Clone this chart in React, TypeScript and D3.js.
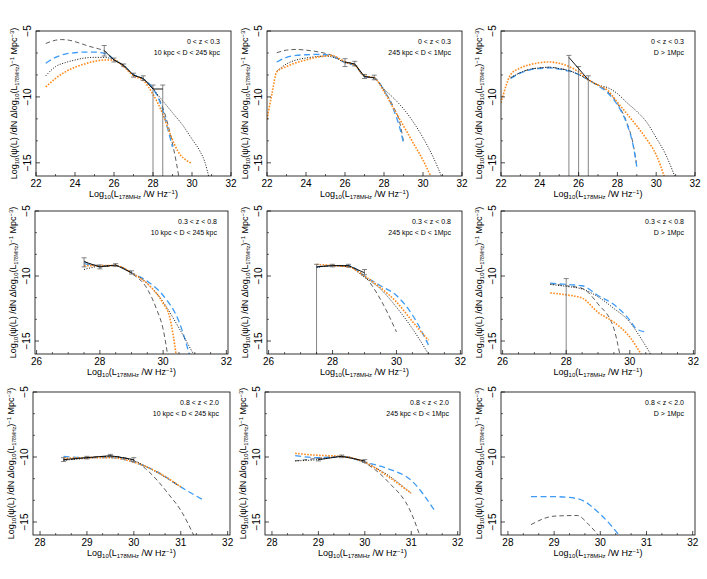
import React from 'react';
import * as d3 from 'd3';

type Pt = [number, number];
type Err = [number, number, number, number]; // x, y, low, high

// ---------- Row 1 : 0 < z < 0.3 ----------
const p11BlackDashed: Pt[] = [[22.5,-5.95],[23,-5.7],[23.3,-5.65],[23.7,-5.7],[24.2,-5.9],[24.7,-6.15],[25.2,-6.35],[25.5,-6.5],[26,-7.15],[26.5,-7.65],[27,-8.3],[27.5,-8.65],[28,-9.35],[28.5,-10.8],[28.8,-12.3],[29.05,-13.9],[29.2,-15],[29.35,-16.3]];
const p11Blue: Pt[] = [[22.5,-7.45],[23,-7.0],[23.5,-6.75],[24,-6.65],[24.5,-6.6],[25,-6.6],[25.5,-6.7],[26,-7.15],[26.5,-7.65],[27,-8.3],[27.5,-8.65],[28,-9.35],[28.5,-11.0],[28.75,-12.4],[29,-13.8]];
const p11Dotted: Pt[] = [[22.5,-8.4],[23,-7.7],[23.5,-7.4],[24,-7.2],[24.5,-7.05],[25,-7.0],[25.5,-7.0],[26,-7.2],[26.5,-7.7],[27,-8.35],[27.5,-8.65],[28,-9.4],[28.5,-10.3],[29,-11.2],[29.5,-12.1],[30,-13.2],[30.4,-14.1],[30.65,-14.9],[30.9,-16.3]];
const p11Orange: Pt[] = [[22.5,-9.25],[23,-8.6],[23.5,-8.1],[24,-7.75],[24.5,-7.5],[25,-7.3],[25.5,-7.2],[26,-7.2],[26.5,-7.7],[27,-8.4],[27.5,-8.75],[28,-9.8],[28.5,-11.3],[28.8,-12.5],[29.1,-13.6],[29.4,-14.4],[29.7,-14.8],[30,-15.05]];
const p11Data: Err[] = [[25.5,-6.5,-6.9,-6.1],[26,-7.2,-7.35,-7.05],[26.5,-7.6,-7.7,-7.5],[27,-8.35,-8.5,-8.2],[27.5,-8.6,-8.75,-8.4],[28,-9.4,-16.5,-9.1],[28.5,-9.4,-16.5,-9.1]];

const p12BlackDashed: Pt[] = [[22.5,-6.65],[23,-6.45],[23.5,-6.4],[24,-6.45],[24.5,-6.55],[25,-6.7],[25.5,-6.95],[26,-7.35],[26.5,-7.55],[27,-8.45],[27.5,-8.55],[28,-9.5],[28.5,-10.8],[28.8,-11.9],[29,-13.4]];
const p12Blue: Pt[] = [[22.5,-7.35],[23,-7.0],[23.5,-6.85],[24,-6.8],[24.5,-6.78],[25,-6.8],[25.5,-7.0],[26,-7.4],[26.5,-7.6],[27,-8.45],[27.5,-8.55],[28,-9.5],[28.5,-11.0],[28.8,-12.3],[29,-13.5]];
const p12Dotted: Pt[] = [[22.5,-8.05],[23,-7.5],[23.5,-7.2],[24,-7.05],[24.5,-6.95],[25,-6.9],[25.5,-7.05],[26,-7.4],[26.5,-7.6],[27,-8.45],[27.5,-8.6],[28,-9.4],[28.5,-10.1],[29,-10.9],[29.5,-11.9],[30,-13.1],[30.5,-14.5],[31,-16.2]];
const p12Orange: Pt[] = [[22,-11.7],[22.25,-9.8],[22.5,-8.1],[23,-7.7],[23.5,-7.4],[24,-7.2],[24.5,-7.0],[25,-6.9],[25.3,-6.85],[25.6,-7.0],[26,-7.35],[26.5,-7.6],[27,-8.4],[27.5,-8.55],[28,-9.6],[28.5,-10.9],[29,-12.2],[29.5,-13.5],[30,-14.8],[30.45,-16.2]];
const p12Data: Err[] = [[26,-7.35,-7.7,-7.1],[26.5,-7.5,-7.65,-7.3],[27,-8.45,-8.6,-8.3],[27.5,-8.55,-8.7,-8.35]];

const p13BlackDashed: Pt[] = [[22.5,-8.55],[23,-8.15],[23.5,-7.9],[24,-7.8],[24.5,-7.75],[25,-7.85],[25.5,-8.0],[26,-8.3],[26.5,-8.7],[27,-9.1],[27.5,-9.6],[28,-10.5],[28.5,-12.0],[28.8,-13.5],[29,-15.2]];
const p13Blue: Pt[] = [[22.5,-8.6],[23,-8.2],[23.5,-7.95],[24,-7.85],[24.5,-7.8],[25,-7.9],[25.5,-8.05],[26,-8.3],[26.5,-8.7],[27,-9.15],[27.5,-9.7],[28,-10.6],[28.5,-12.1],[28.8,-13.6],[29,-15.3]];
const p13Dotted: Pt[] = [[22.5,-8.55],[23,-8.15],[23.5,-7.9],[24,-7.8],[24.5,-7.75],[25,-7.85],[25.5,-8.0],[26,-8.3],[26.5,-8.7],[27,-9.1],[27.5,-9.3],[28,-9.75],[28.5,-10.45],[29,-11.1],[29.5,-11.9],[30,-13.1],[30.5,-14.4],[31,-16.2]];
const p13Orange: Pt[] = [[22,-10.45],[22.25,-9.2],[22.5,-8.3],[23,-7.8],[23.5,-7.55],[24,-7.4],[24.5,-7.35],[25,-7.45],[25.5,-7.7],[26,-8.1],[26.5,-8.7],[27,-9.1],[27.5,-9.5],[28,-10.4],[28.5,-11.3],[29,-12.2],[29.5,-13.2],[30,-14.4],[30.45,-16.2]];
const p13Data: Err[] = [[25.5,-7.0,-16.5,-6.85],[26,-7.85,-16.5,-7.7],[26.5,-8.7,-16.5,-8.4]];

// ---------- Row 2 : 0.3 < z < 0.8 ----------
const p21BlackDashed: Pt[] = [[27.5,-8.85],[28,-9.3],[28.5,-9.2],[29,-9.8],[29.5,-11.0],[29.8,-12.6],[30,-14.1],[30.15,-16.2]];
const p21Blue: Pt[] = [[27.5,-9.05],[28,-9.2],[28.5,-9.2],[29,-9.75],[29.5,-10.4],[30,-11.5],[30.5,-13.5],[30.85,-16.2]];
const p21Dotted: Pt[] = [[27.5,-9.5],[28,-9.25],[28.5,-9.2],[29,-9.75],[29.5,-10.55],[30,-12.0],[30.5,-14.0],[31,-16.2]];
const p21Orange: Pt[] = [[27.5,-9.2],[28,-9.2],[28.5,-9.2],[29,-9.75],[29.5,-10.6],[30,-12.1],[30.2,-13.1],[30.42,-16.2]];
const p21Data: Err[] = [[27.5,-8.9,-9.3,-8.6],[28,-9.3,-9.45,-9.15],[28.5,-9.15,-9.25,-9.05],[29,-9.75,-9.85,-9.6]];

const p22BlackDashed: Pt[] = [[27.5,-9.3],[28,-9.2],[28.5,-9.3],[29,-10.0],[29.5,-11.8],[30,-14.3]];
const p22Blue: Pt[] = [[27.5,-9.3],[28,-9.2],[28.5,-9.2],[29,-10.0],[29.5,-10.75],[30,-11.5],[30.5,-13.0],[31,-15.3]];
const p22Dotted: Pt[] = [[27.5,-9.35],[28,-9.2],[28.5,-9.3],[29,-10.1],[29.5,-11.0],[30,-12.4],[30.5,-14.05],[31,-16.0]];
const p22Orange: Pt[] = [[27.5,-9.1],[28,-9.2],[28.5,-9.3],[29,-10.0],[29.5,-10.9],[30,-12.0],[30.5,-13.5],[31,-14.95]];
const p22Data: Err[] = [[27.5,-9.3,-16.5,-9.1],[28,-9.2,-9.3,-9.1],[28.5,-9.2,-9.3,-9.1],[29,-9.75,-9.9,-9.5]];

const p23BlackDashed: Pt[] = [[27.5,-10.6],[28,-10.75],[28.5,-10.95],[29,-12.15],[29.5,-14.05],[29.7,-16.2]];
const p23Blue: Pt[] = [[27.5,-10.55],[28,-10.65],[28.5,-10.75],[29,-11.5],[29.5,-12.2],[30,-13.4],[30.2,-14.05],[30.5,-14.3]];
const p23Dotted: Pt[] = [[27.5,-10.65],[28,-10.8],[28.5,-11.0],[29,-11.6],[29.5,-12.5],[30,-13.55],[30.3,-14.6],[30.7,-16.2]];
const p23Orange: Pt[] = [[27.5,-11.3],[28,-11.45],[28.5,-11.7],[29,-12.8],[29.5,-13.55],[30,-14.7],[30.4,-16.2]];
const p23Data: Err[] = [[28,-10.3,-16.5,-10.2]];

// ---------- Row 3 : 0.8 < z < 2.0 ----------
const p31BlackDashed: Pt[] = [[28.5,-10.25],[29,-10.05],[29.5,-9.95],[30,-10.25],[30.25,-10.9],[30.5,-11.8],[30.75,-12.9],[31,-14.1],[31.3,-16.2]];
const p31Blue: Pt[] = [[28.5,-9.95],[29,-10.05],[29.5,-10.05],[30,-10.4],[30.5,-11.15],[31,-12.3],[31.5,-13.35]];
const p31Dotted: Pt[] = [[28.5,-10.25],[29,-10.1],[29.5,-9.95],[30,-10.3],[30.5,-11.2],[31,-12.3]];
const p31Orange: Pt[] = [[28.5,-10.1],[29,-10.05],[29.5,-10.05],[30,-10.4],[30.5,-11.15],[31,-12.3]];
const p31Data: Err[] = [[28.5,-10.2,-10.35,-10.05],[29,-10.05,-10.15,-9.95],[29.5,-9.9,-10.0,-9.8],[30,-10.2,-10.35,-10.05]];

const p32BlackDashed: Pt[] = [[28.5,-10.3],[29,-10.1],[29.5,-9.95],[30,-10.45],[30.5,-11.9],[31,-14.3],[31.2,-16.2]];
const p32Blue: Pt[] = [[28.5,-9.9],[29,-10.05],[29.5,-9.95],[30,-10.4],[30.5,-10.9],[31,-11.8],[31.5,-14.1]];
const p32Dotted: Pt[] = [[28.5,-10.3],[29,-10.2],[29.5,-9.95],[30,-10.45],[30.5,-11.4],[31,-12.8]];
const p32Orange: Pt[] = [[28.5,-9.72],[29,-9.87],[29.5,-9.95],[30,-10.4],[30.5,-11.5],[31,-12.8]];
const p32Data: Err[] = [[29,-10.2,-10.3,-10.1],[29.5,-9.95,-10.05,-9.85],[30,-10.3,-10.4,-10.2]];

const p33BlackDashed: Pt[] = [[28.5,-15.2],[29,-14.55],[29.5,-14.5],[29.75,-15.2],[30,-16.2]];
const p33Blue: Pt[] = [[28.5,-13.05],[29,-13.05],[29.5,-13.2],[30,-14.4],[30.45,-16.2]];
const p33Dotted: Pt[] = [];
const p33Orange: Pt[] = [];
const p33Data: Err[] = [];

// ---------- labels / axes ----------
const zLabels = ['0 < z < 0.3', '0.3 < z < 0.8', '0.8 < z < 2.0'];
const dLabels = ['10 kpc < D < 245 kpc', '245 kpc < D < 1Mpc', 'D > 1Mpc'];
const rowXDomains: [number, number][] = [[22, 32], [25.95, 32.05], [27.85, 32.05]];
const rowXTicks: number[][] = [[22, 24, 26, 28, 30, 32], [26, 28, 30, 32], [28, 29, 30, 31, 32]];
const rowXMinorDiv = [2, 4, 3];
const yDomain: [number, number] = [-16, -5];
const yTicks = [-5, -10, -15];
const yMinorDiv = 3;

const panelSeries = [
  [
    { bd: p11BlackDashed, bl: p11Blue, dt: p11Dotted, or: p11Orange, data: p11Data },
    { bd: p12BlackDashed, bl: p12Blue, dt: p12Dotted, or: p12Orange, data: p12Data },
    { bd: p13BlackDashed, bl: p13Blue, dt: p13Dotted, or: p13Orange, data: p13Data },
  ],
  [
    { bd: p21BlackDashed, bl: p21Blue, dt: p21Dotted, or: p21Orange, data: p21Data },
    { bd: p22BlackDashed, bl: p22Blue, dt: p22Dotted, or: p22Orange, data: p22Data },
    { bd: p23BlackDashed, bl: p23Blue, dt: p23Dotted, or: p23Orange, data: p23Data },
  ],
  [
    { bd: p31BlackDashed, bl: p31Blue, dt: p31Dotted, or: p31Orange, data: p31Data },
    { bd: p32BlackDashed, bl: p32Blue, dt: p32Dotted, or: p32Orange, data: p32Data },
    { bd: p33BlackDashed, bl: p33Blue, dt: p33Dotted, or: p33Orange, data: p33Data },
  ],
];

// layout (pixel boxes of each panel)
const rowTop = [31, 211, 392];
const rowBottom = [176, 354, 535];
const colLeft = [[36, 267, 501], [35, 267, 501], [33, 265, 501]];
const colRight = [[231, 462, 695], [228, 462, 695], [230, 460, 695]];

const FONT = "'Liberation Sans', Arial, Helvetica, sans-serif";

function minorTicks(majors: number[], div: number, dom: [number, number]) {
  const period = majors[1] - majors[0];
  const out: number[] = [];
  const start = majors[0] - period;
  const lo = Math.min(dom[0], dom[1]), hi = Math.max(dom[0], dom[1]);
  for (let m = start; m <= majors[majors.length - 1] + 1e-9; m += period) {
    for (let k = 1; k < div; k++) {
      const v = m + (period * k) / div;
      if (v > lo + 1e-6 && v < hi - 1e-6) out.push(v);
    }
  }
  return out;
}

function Panel({ row, col }: { row: number; col: number }) {
  const l = colLeft[row][col], r = colRight[row][col];
  const t = rowTop[row], b = rowBottom[row];
  const x = d3.scaleLinear().domain(rowXDomains[row]).range([l, r]);
  const y = d3.scaleLinear().domain(yDomain).range([b, t]);
  const line = d3.line<Pt>().x(d => x(d[0])).y(d => y(d[1])).curve(d3.curveMonotoneX);
  const s = panelSeries[row][col];
  const clipId = `clip-${row}-${col}`;
  const xMinor = minorTicks(rowXTicks[row], rowXMinorDiv[row], rowXDomains[row]);
  const yMinor = minorTicks([-15, -10, -5], yMinorDiv, yDomain);
  const cx = (l + r) / 2, cy = (t + b) / 2;
  const dataLine = d3.line<Err>().x(d => x(d[0])).y(d => y(d[1]));
  return (
    <g>
      <defs>
        <clipPath id={clipId}>
          <rect x={l} y={t} width={r - l} height={b - t} />
        </clipPath>
      </defs>
      <g clipPath={`url(#${clipId})`} fill="none">
        {s.bd.length > 0 && <path d={line(s.bd) || ''} stroke="#333" strokeWidth={0.8} strokeDasharray="4.5,3" />}
        {s.bl.length > 0 && <path d={line(s.bl) || ''} stroke="#3d9bf5" strokeWidth={1.3} strokeDasharray="6,3.5" />}
        {s.dt.length > 0 && <path d={line(s.dt) || ''} stroke="#111" strokeWidth={1} strokeDasharray="1,1.6" />}
        {s.or.length > 0 && <path d={line(s.or) || ''} stroke="#ff8a1c" strokeWidth={1.6} strokeDasharray="1.6,1.4" />}
        {s.data.map((d, i) => (
          <g key={i} stroke="#666" strokeWidth={0.8}>
            <line x1={x(d[0])} x2={x(d[0])} y1={y(d[2])} y2={y(d[3])} />
            <line x1={x(d[0]) - 2.5} x2={x(d[0]) + 2.5} y1={y(d[3])} y2={y(d[3])} />
            <line x1={x(d[0]) - 2.5} x2={x(d[0]) + 2.5} y1={y(d[2])} y2={y(d[2])} />
          </g>
        ))}
        {s.data.length > 1 && <path d={dataLine(s.data) || ''} stroke="#000" strokeWidth={0.9} />}
      </g>
      <rect x={l} y={t} width={r - l} height={b - t} fill="none" stroke="#000" strokeWidth={0.8} />
      {rowXTicks[row].map(v => (
        <g key={'xt' + v}>
          <line x1={x(v)} x2={x(v)} y1={b} y2={b - 4} stroke="#000" strokeWidth={0.7} />
          <text x={Math.min(x(v), r)} y={b + 10.5} fontSize={10} textAnchor="middle" fontFamily={FONT} fill="#000">{v}</text>
        </g>
      ))}
      {xMinor.map((v, i) => (
        <line key={'xm' + i} x1={x(v)} x2={x(v)} y1={b} y2={b - 2} stroke="#000" strokeWidth={0.6} />
      ))}
      {yTicks.map(v => (
        <g key={'yt' + v}>
          <line x1={l} x2={l + 4} y1={y(v)} y2={y(v)} stroke="#000" strokeWidth={0.7} />
          <text transform={`translate(${l - 5},${y(v)}) rotate(-90)`} fontSize={10} textAnchor="middle" fontFamily={FONT} fill="#000">{v < 0 ? '\u2212' + Math.abs(v) : v}</text>
        </g>
      ))}
      {yMinor.map((v, i) => (
        <line key={'ym' + i} x1={l} x2={l + 2} y1={y(v)} y2={y(v)} stroke="#000" strokeWidth={0.6} />
      ))}
      <text x={r - 11} y={t + 13} fontSize={7} textAnchor="end" fontFamily={FONT} fill="#000">{zLabels[row]}</text>
      <text x={r - 11} y={t + 24} fontSize={7} textAnchor="end" fontFamily={FONT} fill="#000">{dLabels[col]}</text>
      <text x={cx} y={b + 20.5} fontSize={9} textAnchor="middle" fontFamily={FONT} fill="#000">
        Log<tspan fontSize={6} dy={2.2}>10</tspan><tspan dy={-2.2}>(L</tspan><tspan fontSize={6} dy={2.2}>178MHz</tspan><tspan dy={-2.2}> /W Hz</tspan><tspan fontSize={6} dy={-3}>−1</tspan><tspan dy={3}>)</tspan>
      </text>
      <text transform={`translate(${l - 19},${cy}) rotate(-90)`} fontSize={9} textAnchor="middle" fontFamily={FONT} fill="#000">
        Log<tspan fontSize={6} dy={2.2}>10</tspan><tspan dy={-2.2}>(ψ(L) /dN Δlog</tspan><tspan fontSize={6} dy={2.2}>10</tspan><tspan dy={-2.2}>(L</tspan><tspan fontSize={5} dy={2.2}>178MHz</tspan><tspan dy={-2.2}>)</tspan><tspan fontSize={6} dy={-3}>−1</tspan><tspan dy={3}>  Mpc</tspan><tspan fontSize={6} dy={-3}>−3</tspan><tspan dy={3}>)</tspan>
      </text>
    </g>
  );
}

export default function App() {
  const cells: [number, number][] = [];
  for (let r = 0; r < 3; r++) for (let c = 0; c < 3; c++) cells.push([r, c]);
  return (
    <svg width={707} height={579} style={{ position: 'absolute', left: 0, top: 0, background: '#fff' }}>
      <rect x={0} y={0} width={707} height={579} fill="#fff" />
      {cells.map(([r, c]) => <Panel key={`${r}-${c}`} row={r} col={c} />)}
    </svg>
  );
}
